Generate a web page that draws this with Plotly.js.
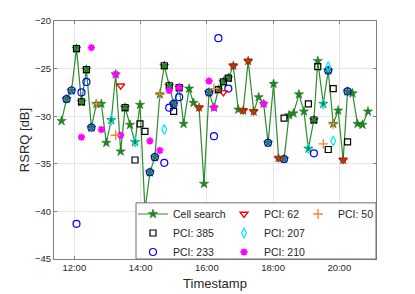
<!DOCTYPE html>
<html><head><meta charset="utf-8">
<script src="https://cdn.plot.ly/plotly-3.0.1.min.js"></script>
<style>html,body{margin:0;padding:0;background:#fff;}#chart{width:415px;height:294px;}</style>
</head><body><div id="chart"></div>
<script>
const DAY = '2024-05-01 ';

const csTime = ["11:37","11:46","11:55","12:04","12:13","12:22","12:31","12:40","12:49","12:58","13:07","13:15","13:24","13:32","13:41","13:50","13:59","14:08","14:17","14:26","14:35","14:43","14:52","15:00","15:10","15:18","15:28","15:36","15:46","15:55","16:04","16:13","16:21","16:30","16:39","16:48","16:57","17:06","17:15","17:25","17:34","17:43","17:51","18:01","18:10","18:20","18:29","18:37","18:47","18:56","19:04","19:14","19:21","19:31","19:40","19:49","19:58","20:07","20:15","20:24","20:33","20:42","20:52"];
const csRsrq = [-30.5,-28.2,-27.3,-22.9,-28.5,-25.1,-31.2,-28.7,-28.7,-32.8,
  -30.4,-25.6,-33.7,-29.1,-30.9,-32.7,-28.8,-39.9,-35.9,-34.3,
  -27.7,-24.7,-26.8,-28.7,-27.0,-30.8,-27.1,-28.6,-29.1,-37.1,
  -27.5,-29.1,-27.2,-26.4,-26.0,-24.7,-29.3,-29.4,-24.2,-29.5,
  -28.0,-28.7,-32.8,-26.6,-34.4,-34.5,-29.9,-29.7,-27.7,-29.5,
  -33.4,-30.4,-24.2,-28.7,-25.2,-30.8,-29.4,-34.6,-27.4,-27.6,
  -30.8,-30.9,-29.5];

const pci385Time = ["12:04","12:13","12:22","13:32","13:50","13:59","14:08","14:43","14:52","15:00","15:10","16:21","16:30","16:39","18:20","19:04","19:14","19:21","19:40","19:49","20:15"];
const pci385Rsrq = [-22.9,-28.5,-25.1,-29.1,-34.6,-30.8,-31.6,-24.7,-26.8,-29.5,-27.0,-27.2,-26.4,-26.0,-30.2,-28.7,-30.4,-24.8,-33.5,-27.1,-32.7];

const pci233Time = ["11:46","11:55","12:04","12:13","12:22","12:31","14:17","14:26","14:43","14:52","15:00","15:10","16:04","16:13","16:21","16:39","17:51","18:20","19:14","19:40","20:15"];
const pci233Rsrq = [-28.2,-27.3,-41.3,-27.5,-26.4,-31.2,-35.9,-34.3,-34.9,-29.1,-28.7,-28.0,-27.5,-32.1,-21.8,-27.1,-32.8,-34.5,-33.9,-25.2,-27.4];

const pci62Time = ["13:24","15:46","16:30","16:48","17:06","17:15","17:25","18:10","20:07"];
const pci62Rsrq = [-26.8,-29.1,-27.5,-24.7,-29.4,-24.2,-29.5,-34.4,-34.6];

const pci207Time = ["13:07","13:50","14:08","14:43","19:04","19:31","19:40","19:49"];
const pci207Rsrq = [-30.4,-32.7,-39.9,-31.4,-33.4,-28.7,-24.8,-32.6];

const pci210Time = ["12:13","12:31","12:49","13:15","13:24","14:17","14:35","14:52","15:10","16:04","16:13","17:43"];
const pci210Rsrq = [-32.2,-22.8,-31.4,-25.6,-32.0,-32.6,-33.6,-27.3,-27.0,-26.3,-29.1,-28.7];

const pci50Time = ["12:40","13:15","14:35","16:13","19:31","19:49"];
const pci50Rsrq = [-28.7,-32.0,-27.7,-27.1,-32.9,-30.8];

const tickLabels = ["12:00","14:00","16:00","18:00","20:00"];

const toX = arr => arr.map(t => DAY + t);
const FONT = 'Liberation Sans, Arial, Helvetica, sans-serif';

function pts(name, t, v, sym, color, size, lw, legend) {
  return {
    type: 'scatter', mode: 'markers', name: name, legend: legend,
    x: toX(t), y: v,
    marker: {symbol: sym, size: size, color: color, line: {color: color, width: lw}},
    cliponaxis: false
  };
}

const traces = [
  {type: 'scatter', mode: 'lines+markers', name: 'Cell search', legend: 'legend',
   x: toX(csTime), y: csRsrq,
   line: {color: '#2a8c2a', width: 1.2},
   marker: {symbol: 'star', size: 7, color: '#1f8a1f', line: {color: '#146614', width: 0.5}}},
  pts('PCI: 385', pci385Time, pci385Rsrq, 'square-open', '#000000', 6, 1.2, 'legend'),
  pts('PCI: 233', pci233Time, pci233Rsrq, 'circle-open', '#0000ff', 7, 1.2, 'legend'),
  pts('PCI: 62', pci62Time, pci62Rsrq, 'triangle-down-open', '#ff0000', 7, 1.3, 'legend2'),
  pts('PCI: 207', pci207Time, pci207Rsrq, 'diamond-tall-open', '#00e5ff', 7, 1.2, 'legend2'),
  pts('PCI: 210', pci210Time, pci210Rsrq, 'asterisk-open', '#ff00ff', 6, 1.8, 'legend2'),
  pts('PCI: 50', pci50Time, pci50Rsrq, 'cross-thin-open', '#f5823c', 7, 1.3, 'legend3')
];

const AX = '#808080';
const legBase = {orientation: 'v', bgcolor: 'rgba(0,0,0,0)', borderwidth: 0,
  font: {family: FONT, size: 10.5, color: '#262626'}, xanchor: 'left', yanchor: 'top', y: 0.25,
  itemwidth: 30, tracegroupgap: 0};

const layout = {
  width: 415, height: 294,
  margin: {l: 54, r: 39, t: 21, b: 35, pad: 0},
  paper_bgcolor: '#ffffff', plot_bgcolor: '#ffffff',
  font: {family: FONT, size: 9.5, color: '#262626'},
  showlegend: true,
  xaxis: {
    type: 'date',
    range: [DAY + '11:23:15', DAY + '21:06:30'],
    tickmode: 'array',
    tickvals: toX(tickLabels), ticktext: tickLabels,
    ticks: 'inside', ticklen: 3, tickcolor: AX, tickwidth: 1,
    showline: true, linecolor: AX, linewidth: 1, mirror: 'ticks',
    showgrid: true, gridcolor: '#e6e6e6', gridwidth: 1, zeroline: false,
    tickfont: {size: 9.5, color: '#262626'},
    title: {text: 'Timestamp', font: {size: 13, color: '#262626'}, standoff: 6}
  },
  yaxis: {
    range: [-45, -20], dtick: 5, tick0: -45,
    ticks: 'inside', ticklen: 3, tickcolor: AX, tickwidth: 1,
    showline: true, linecolor: AX, linewidth: 1, mirror: 'ticks',
    showgrid: true, gridcolor: '#e6e6e6', gridwidth: 1, zeroline: false,
    tickfont: {size: 9.5, color: '#262626'},
    title: {text: 'RSRQ [dB]', font: {size: 13, color: '#262626'}, standoff: 2}
  },
  legend: Object.assign({}, legBase, {x: 0.2453}),
  legend2: Object.assign({}, legBase, {x: 0.528}),
  legend3: Object.assign({}, legBase, {x: 0.7578}),
  shapes: [{type: 'rect', xref: 'paper', yref: 'paper', x0: 0.2547, x1: 1, y0: 0, y1: 0.236,
    fillcolor: '#ffffff', line: {color: '#6e6e6e', width: 1}, layer: 'above'}]
};

Plotly.newPlot('chart', traces, layout, {staticPlot: true, displayModeBar: false});
</script>
</body></html>
